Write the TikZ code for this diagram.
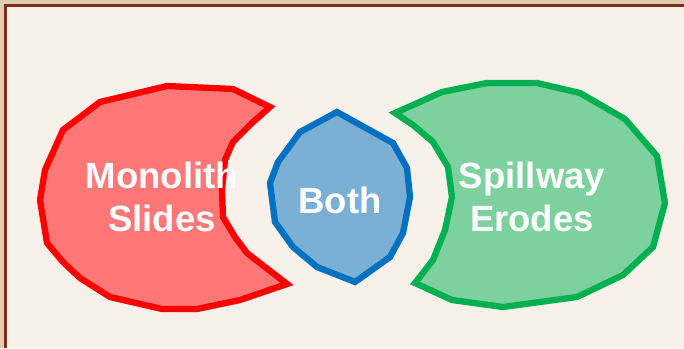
\documentclass[tikz,border=0pt]{standalone}
\usepackage{fontspec}
\setmainfont{Liberation Sans}
\definecolor{tanbg}{HTML}{E3CDB0}
\definecolor{brownline}{HTML}{7B2E1A}
\definecolor{paper}{HTML}{F7F1EA}
\definecolor{redline}{HTML}{FF0000}
\definecolor{redfill}{HTML}{FF7777}
\definecolor{blueline}{HTML}{0070C0}
\definecolor{bluefill}{HTML}{7BAFD4}
\definecolor{greenline}{HTML}{00B050}
\definecolor{greenfill}{HTML}{7DD19E}
\tikzset{
  blob/.style={line width=6.3pt, line join=miter, miter limit=20},
  label/.style={text=white, font=\bfseries\fontsize{36.5}{43}\selectfont, align=center, inner sep=0pt}
}
\begin{document}
\begin{tikzpicture}[x=1pt,y=-1pt]
\useasboundingbox (0,0) rectangle (684,348);
\fill[tanbg] (0,0) rectangle (684,348);
\fill[brownline] (4,4) rectangle (684,348);
\fill[paper] (6.5,6.5) rectangle (684,348);
% red blob
\filldraw[blob, draw=redline, fill=redfill]
  (167,86) -- (233,89) -- (270,107) -- (252,123) -- (233,142) -- (225,160) -- (222,190)
  -- (223,217) -- (235,237) -- (247,253) -- (287,284) -- (240,300) -- (197,309)
  -- (162,309) -- (110,297) -- (80,278) -- (63,262) -- (47,243) -- (40,200)
  -- (45,170) -- (63,130) -- (100,102) -- cycle;
% blue blob
\filldraw[blob, draw=blueline, fill=bluefill]
  (337,112) -- (393,143) -- (407,168) -- (410,197) -- (403,233) -- (390,257)
  -- (355,282) -- (317,267) -- (293,247) -- (275,222) -- (270,183) -- (278,162)
  -- (300,132) -- cycle;
% green blob
\filldraw[blob, draw=greenline, fill=greenfill]
  (395,113) -- (442,92) -- (487,83) -- (537,83) -- (580,93) -- (625,119)
  -- (657,156) -- (665,203) -- (653,247) -- (623,275) -- (577,297) -- (503,307)
  -- (452,300) -- (415,283) -- (433,260) -- (445,230) -- (452,197) -- (448,167)
  -- (433,142) -- (413,125) -- cycle;
\node[label] (mono) at (162,197) {Monolith\\Slides};
\node[label] (both) at (340,200) {Both};
\node[label] (spill) at (532,197) {Spillway\\Erodes};
\end{tikzpicture}
\end{document}
